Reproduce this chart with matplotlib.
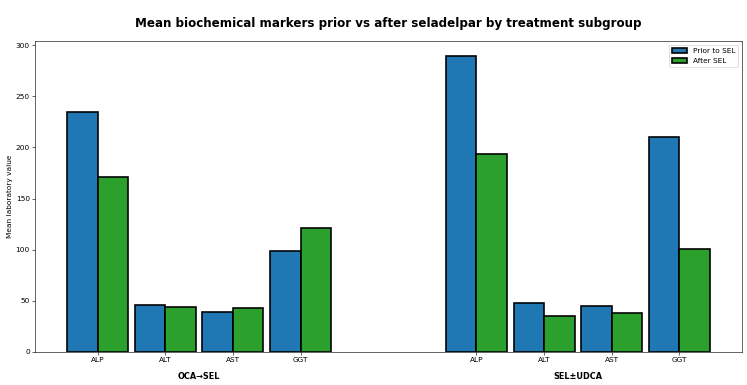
import numpy as np
import matplotlib
matplotlib.use("Agg")
import matplotlib.pyplot as plt
from matplotlib.transforms import blended_transform_factory

# data
markers = ["ALP", "ALT", "AST", "GGT"]
groups = ["OCA\u2192SEL", "SEL\u00b1UDCA"]
prior_oca = [235, 46, 39, 98.5]
after_oca = [171, 44, 43, 121]
prior_sel = [289, 47.5, 45, 210.5]
after_sel = [194, 35.5, 38.5, 101]

width = 0.45
group_offset = 5.6

# drawn at a 14in figure and shrunk to 747 px wide
dpi = 747 / 14
fig = plt.figure(figsize=(14, 385 / dpi), dpi=dpi)
ax = fig.add_axes([35 / 747, 1 - 352 / 385, 707 / 747, 311 / 385])

x1 = np.arange(len(markers))
x2 = x1 + group_offset
prior = prior_oca + prior_sel
after = after_oca + after_sel
xs = np.concatenate([x1, x2])

ax.bar(xs - width / 2, prior, width, color="#1f77b4", edgecolor="black",
       linewidth=2.2, label="Prior to SEL")
ax.bar(xs + width / 2, after, width, color="#2ca02c", edgecolor="black",
       linewidth=2.2, label="After SEL")

ax.set_xticks(xs)
ax.set_xticklabels(markers * 2, fontsize=10)
ax.tick_params(axis="y", labelsize=10)
ax.set_ylabel("Mean laboratory value", fontsize=10)
ax.set_ylim(0, 304)

trans = blended_transform_factory(ax.transData, ax.transAxes)
for centre, name in zip([x1.mean(), x2.mean()], groups):
    ax.text(centre, -0.08, name, transform=trans, ha="center", va="center",
            fontsize=11, fontweight="bold")

ax.legend(loc="upper right", fontsize=10)
fig.suptitle("Mean biochemical markers prior vs after seladelpar by treatment subgroup",
             fontsize=16, fontweight="bold", x=388 / 747, y=1 - 24 / 385, va="center")

fig.savefig("out.png", dpi=dpi)
